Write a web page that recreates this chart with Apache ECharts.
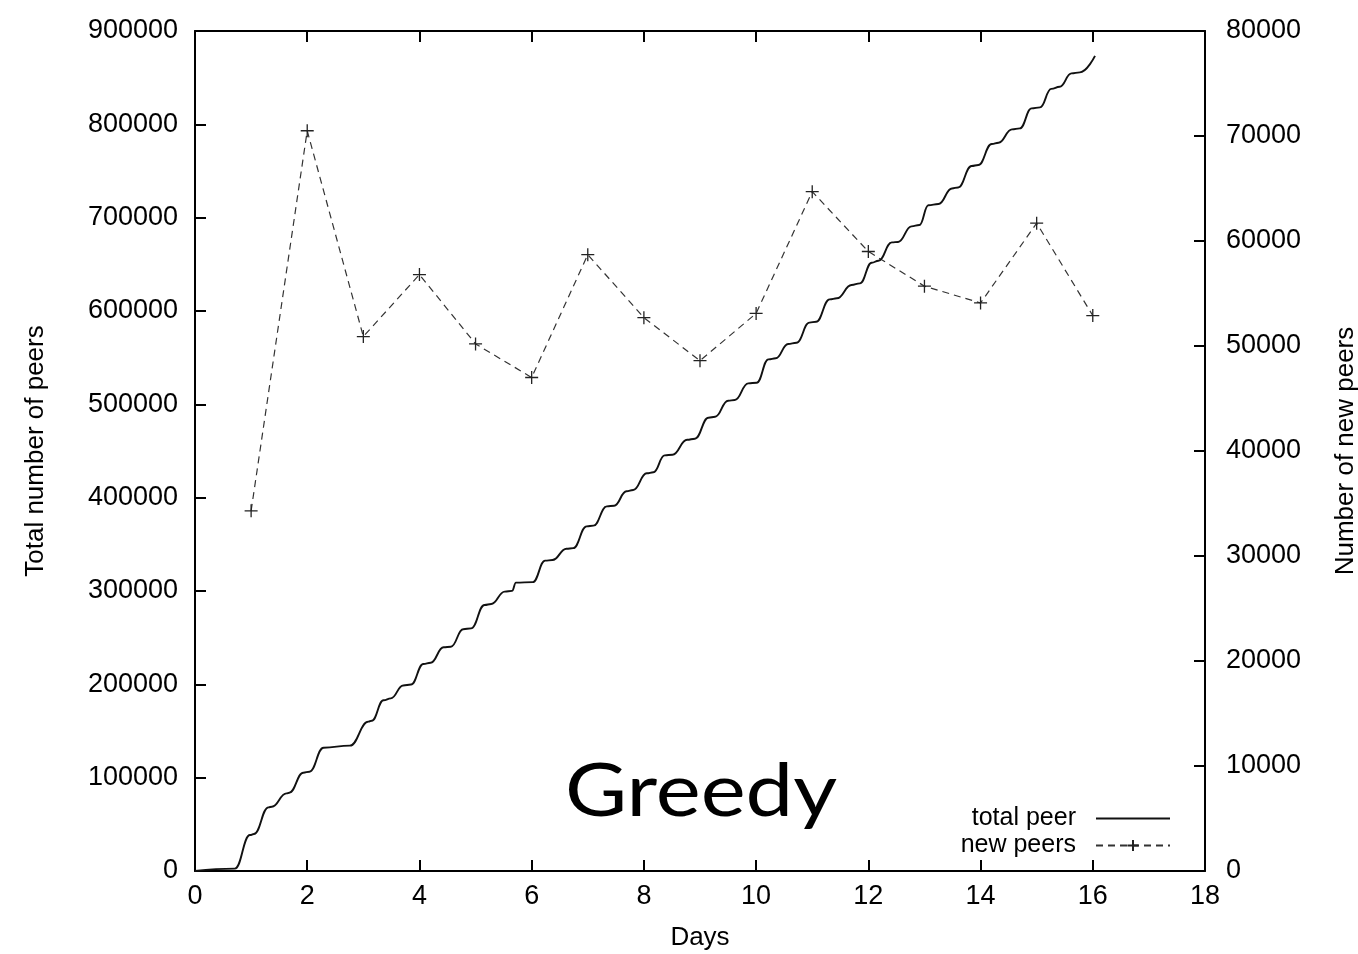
<!DOCTYPE html>
<html>
<head>
<meta charset="utf-8">
<script src="https://cdn.jsdelivr.net/npm/echarts@6/dist/echarts.min.js"></script>
<style>
  html, body { margin: 0; padding: 0; background: #fff; overflow: hidden; }
  #chart { width: 1358px; height: 954px; }
</style>
</head>
<body>
<div id="chart"></div>
<script>
// Cumulative peers seen over the crawl (days, count)
const totalDays = [
  0, 0.71, 0.98, 1.05, 1.31, 1.37, 1.63, 1.68, 1.93, 2.04,
  2.29, 2.76, 3.09, 3.15, 3.36, 3.49, 3.71, 3.85, 4.07, 4.20,
  4.43, 4.56, 4.78, 4.92, 5.16, 5.28, 5.52, 5.65, 5.72, 6.02,
  6.24, 6.37, 6.62, 6.74, 6.98, 7.10, 7.34, 7.47, 7.69, 7.81,
  8.05, 8.17, 8.37, 8.51, 8.77, 8.91, 9.15, 9.27, 9.50, 9.62,
  9.86, 10.01, 10.22, 10.35, 10.57, 10.72, 10.95, 11.07, 11.31, 11.44,
  11.70, 11.85, 12.06, 12.18, 12.42, 12.53, 12.77, 12.91, 13.07, 13.25,
  13.49, 13.60, 13.84, 13.96, 14.20, 14.32, 14.56, 14.70, 14.91, 15.06,
  15.26, 15.41, 15.62, 15.77, 16.04
];
const totalPeers = [
  0, 2500, 38600, 39600, 68200, 68900, 83200, 83900, 105300, 106400,
  132100, 134300, 160000, 161000, 183000, 185000, 198800, 199800, 221800, 223200,
  239700, 240300, 259000, 260000, 285000, 286100, 299300, 300100, 309000, 309500,
  332500, 333200, 345200, 345900, 369200, 370000, 390700, 391400, 406800, 408200,
  426100, 427200, 445300, 446000, 462000, 463200, 485700, 486700, 503900, 504600,
  522500, 523200, 548200, 549300, 564600, 566000, 587500, 588500, 612500, 613600,
  627800, 629600, 651700, 653900, 673500, 674000, 690700, 692100, 713300, 714600,
  731300, 732400, 755300, 756400, 778900, 780300, 794600, 795700, 817100, 818200,
  838000, 840300, 854600, 855700, 873300
];

// New peers discovered per day
const newPeerDays = [1, 2, 3, 4, 5, 6, 7, 8, 9, 10, 11, 12, 13, 14, 15, 16];
const newPeers = [
  34300, 70500, 50900, 56800, 50200, 47000, 58700, 52700,
  48600, 53100, 64700, 59000, 55700, 54100, 61700, 52900
];

// Axis tick ranges
const dayTicks = { min: 0, max: 18, interval: 2 };
const totalTicks = { min: 0, max: 900000, interval: 100000 };
const newTicks = { min: 0, max: 80000, interval: 10000 };

const FONT = '"Liberation Sans", Arial, Helvetica, sans-serif';
const INK = '#000';

const chart = echarts.init(document.getElementById('chart'), null, { renderer: 'canvas' });

const axisLine = { show: true, onZero: false, lineStyle: { color: INK, width: 2 } };
const tickIn = { show: true, inside: true, length: 11, lineStyle: { color: INK, width: 2 } };
const labelStyle = { color: INK, fontFamily: FONT, fontSize: 27 };
const nameStyle = { color: INK, fontFamily: FONT, fontSize: 26 };

chart.setOption({
  animation: false,
  backgroundColor: '#fff',
  grid: {
    left: 195, right: 153, top: 31, bottom: 83,
    containLabel: false, outerBoundsMode: 'none'
  },
  xAxis: [
    {
      type: 'value', position: 'bottom', ...dayTicks,
      name: 'Days', nameLocation: 'middle', nameGap: 54,
      nameTextStyle: nameStyle,
      axisLine, axisTick: tickIn,
      axisLabel: { ...labelStyle, margin: 12, formatter: v => String(v) },
      splitLine: { show: false }
    },
    {
      type: 'value', position: 'top', ...dayTicks,
      axisLine, axisTick: tickIn,
      axisLabel: { show: false }, splitLine: { show: false }
    }
  ],
  yAxis: [
    {
      type: 'value', position: 'left', ...totalTicks,
      name: 'Total number of peers', nameLocation: 'middle', nameGap: 146,
      nameRotate: 90,
      nameTextStyle: nameStyle,
      axisLine, axisTick: tickIn,
      axisLabel: { ...labelStyle, margin: 17, formatter: v => String(v) },
      splitLine: { show: false }
    },
    {
      type: 'value', position: 'right', ...newTicks,
      name: 'Number of new peers', nameLocation: 'middle', nameGap: 128,
      nameRotate: 90,
      nameTextStyle: nameStyle,
      axisLine, axisTick: tickIn,
      axisLabel: { ...labelStyle, margin: 21, formatter: v => String(v) },
      splitLine: { show: false }
    }
  ],
  legend: {
    orient: 'vertical', right: 187, top: 806, align: 'right', padding: 0,
    itemWidth: 74, itemHeight: 14, itemGap: 2,
    textStyle: { color: INK, fontFamily: FONT, fontSize: 25, padding: [0, 15, 0, 0] },
    data: [
      { name: 'total peer', itemStyle: { color: 'transparent', borderWidth: 0 } },
      { name: 'new peers' }
    ]
  },
  series: [
    {
      name: 'total peer', type: 'line', xAxisIndex: 0, yAxisIndex: 0,
      data: totalDays.map((d, i) => [d, totalPeers[i]]),
      smooth: 0.45, smoothMonotone: 'x',
      symbol: 'none', showSymbol: false,
      lineStyle: { color: '#111', width: 1.9 },
      itemStyle: { color: '#111' },
      z: 3
    },
    {
      name: 'new peers', type: 'line', xAxisIndex: 0, yAxisIndex: 1,
      data: newPeerDays.map((d, i) => [d, newPeers[i]]),
      symbol: 'path://M0,6 L12,6 M6,0 L6,12', symbolSize: 13,
      showSymbol: true,
      lineStyle: { color: '#333', width: 1.2, type: [7, 5] },
      itemStyle: { color: '#222', borderColor: '#222', borderWidth: 1.3 },
      z: 2
    }
  ],
  graphic: [
    {
      type: 'text', left: 565, top: 755, z: 10, scaleX: 1.15,
      style: {
        text: 'Greedy', fill: INK,
        fontFamily: 'Lato, "Open Sans", sans-serif', fontSize: 74
      }
    }
  ]
});
</script>
</body>
</html>
